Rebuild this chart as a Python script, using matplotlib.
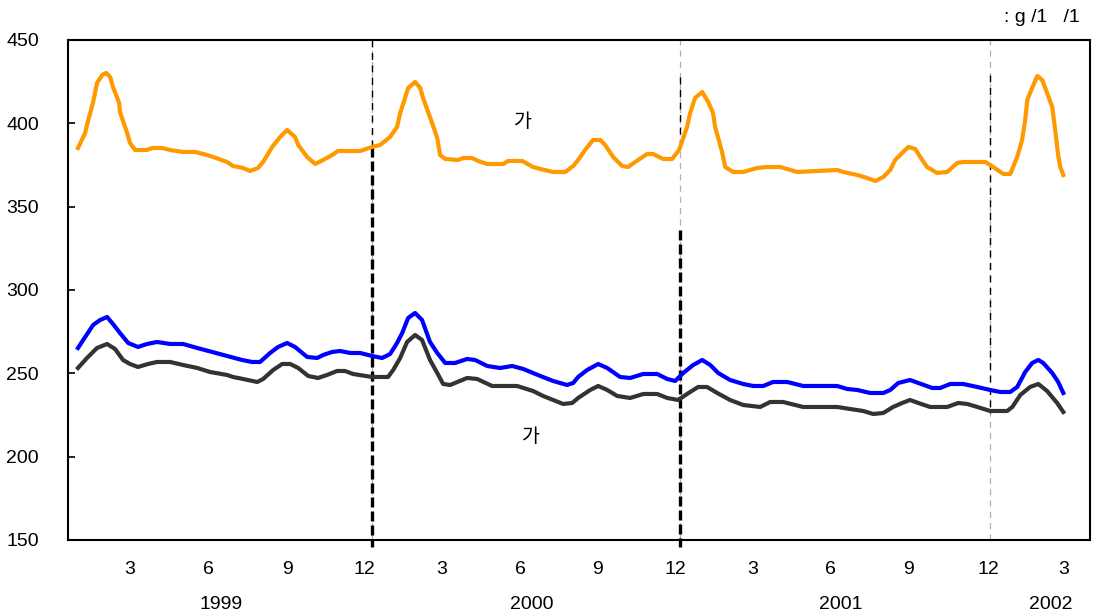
import matplotlib
matplotlib.use("Agg")
import matplotlib.pyplot as plt

# x = months since 1 Jan 1999, y = price
orange_x = [0.54, 0.82, 0.89, 1.13, 1.28, 1.48, 1.63, 1.79, 1.90, 2.14, 2.17, 2.45, 2.56, 2.76,
            3.22, 3.42, 3.81, 4.12, 4.62, 5.09, 5.55, 5.79, 6.33, 6.56, 6.95, 7.22, 7.53, 7.73,
            8.08, 8.39, 8.66, 8.97, 9.09, 9.44, 9.75, 10.06, 10.41, 10.64, 11.50, 11.96, 12.27,
            12.66, 12.93, 13.05, 13.24, 13.36, 13.63, 13.83, 13.94, 14.29, 14.49, 14.60, 14.80,
            15.30, 15.50, 15.84, 16.08, 16.43, 17.05, 17.24, 17.79, 18.21, 18.49, 18.99, 19.46,
            19.77, 19.96, 20.23, 20.54, 20.82, 21.01, 21.32, 21.67, 21.90, 22.29, 22.64, 22.87,
            23.26, 23.61, 23.88, 24.19, 24.31, 24.50, 24.78, 25.01, 25.20, 25.28, 25.55, 25.67,
            25.98, 26.37, 26.64, 26.91, 27.30, 27.81, 28.08, 28.47, 29.24, 30.02, 30.25, 30.80,
            31.18, 31.50, 31.81, 32.08, 32.27, 32.54, 32.78, 33.05, 33.32, 33.51, 33.90, 34.29,
            34.68, 34.91, 35.77, 36.08, 36.47, 36.74, 37.01, 37.20, 37.32, 37.40, 37.59, 37.79,
            37.98, 38.17, 38.37, 38.45, 38.60, 38.68, 38.80]
orange_y = [385.2, 394.2, 399.0, 412.8, 424.2, 429.0, 430.2, 427.8, 421.8, 412.2, 406.8, 394.2, 388.2, 384.0,
            384.0, 385.2, 385.2, 384.0, 382.8, 382.8, 381.0, 379.8, 376.8, 374.4, 373.2, 371.4, 373.2, 376.8,
            385.8, 391.8, 396.0, 391.8, 387.0, 379.8, 375.6, 378.0, 381.0, 383.4, 383.4, 385.8, 387.0,
            391.8, 397.8, 406.2, 415.2, 421.2, 424.8, 421.2, 415.2, 400.2, 391.2, 381.0, 378.6,
            378.0, 379.2, 379.2, 377.4, 375.6, 375.6, 377.4, 377.4, 373.8, 372.6, 370.8, 370.8,
            374.4, 378.0, 384.0, 390.0, 390.0, 387.0, 379.8, 374.4, 373.8, 378.0, 381.6, 381.6,
            378.6, 378.6, 384.0, 397.8, 406.2, 415.2, 418.8, 412.8, 406.2, 397.8, 382.8, 373.8,
            370.8, 370.8, 372.0, 373.2, 373.8, 373.8, 372.6, 370.8, 371.4, 372.0, 370.8, 369.0,
            367.2, 365.4, 367.8, 372.0, 378.0, 382.2, 385.8, 384.6, 378.0, 373.8, 370.2, 370.8,
            376.2, 376.8, 376.8, 373.8, 369.6, 369.6, 379.8, 390.0, 402.0, 414.0, 421.2, 428.4,
            426.0, 418.2, 409.8, 400.2, 381.0, 373.8, 369.0]

blue_x = [0.54, 0.82, 1.13, 1.40, 1.67, 1.90, 2.17, 2.49, 2.87, 3.22, 3.61, 4.12, 4.62, 5.17, 5.75,
          6.33, 6.91, 7.30, 7.61, 8.00, 8.31, 8.66, 8.97, 9.44, 9.83, 10.06, 10.41, 10.72, 11.11,
          11.50, 11.96, 12.35, 12.66, 12.93, 13.13, 13.36, 13.63, 13.90, 14.21, 14.49, 14.80,
          15.18, 15.65, 15.96, 16.43, 16.93, 17.40, 17.83, 18.49, 18.99, 19.53, 19.77, 19.96,
          20.31, 20.74, 21.09, 21.59, 21.98, 22.49, 23.03, 23.42, 23.73, 24.04, 24.43, 24.78,
          25.09, 25.40, 25.86, 26.37, 26.76, 27.15, 27.53, 28.08, 28.70, 30.02, 30.41, 30.80,
          31.30, 31.81, 32.08, 32.39, 32.85, 33.17, 33.71, 34.02, 34.41, 34.91, 35.46, 35.96,
          36.35, 36.74, 37.01, 37.32, 37.59, 37.83, 38.02, 38.37, 38.60, 38.80]
blue_y = [265.2, 271.8, 279.0, 282.0, 283.8, 279.6, 274.2, 268.2, 265.8, 267.6, 268.8, 267.6, 267.6, 265.2, 262.8,
          260.4, 258.0, 256.8, 256.8, 262.2, 265.8, 268.2, 265.8, 259.8, 259.2, 261.0, 262.8, 263.4, 262.2,
          262.2, 260.4, 259.2, 261.6, 268.2, 274.2, 283.2, 286.2, 282.0, 268.8, 262.2, 256.2,
          256.2, 258.6, 258.0, 254.4, 253.2, 254.4, 252.6, 248.4, 245.4, 243.0, 244.2, 247.8,
          252.0, 255.6, 253.2, 247.8, 247.2, 249.6, 249.6, 246.6, 245.4, 250.2, 255.0, 258.0,
          255.0, 250.2, 246.0, 243.6, 242.4, 242.4, 244.8, 244.8, 242.4, 242.4, 240.6, 240.0,
          238.2, 238.2, 240.0, 244.2, 246.0, 244.2, 241.2, 241.2, 243.6, 243.6, 241.8, 240.0,
          238.8, 238.8, 241.8, 250.8, 256.2, 258.0, 256.2, 250.2, 244.8, 238.2]

black_x = [0.54, 0.89, 1.28, 1.67, 1.98, 2.29, 2.56, 2.87, 3.26, 3.61, 4.12, 4.62, 5.17, 5.67, 6.33,
           6.56, 6.95, 7.50, 7.73, 8.12, 8.47, 8.78, 9.09, 9.48, 9.86, 10.21, 10.60, 10.91, 11.22,
           11.96, 12.58, 12.78, 13.05, 13.32, 13.63, 13.90, 14.21, 14.49, 14.72, 14.99, 15.65,
           16.04, 16.62, 17.59, 18.21, 18.60, 18.99, 19.38, 19.73, 19.96, 20.43, 20.74, 21.09,
           21.48, 21.98, 22.49, 23.03, 23.42, 23.84, 24.31, 24.62, 24.97, 25.36, 25.86, 26.37,
           27.03, 27.42, 27.92, 28.70, 30.02, 30.52, 31.03, 31.42, 31.81, 32.19, 32.54, 32.85,
           33.17, 33.63, 34.29, 34.72, 35.07, 35.46, 35.96, 36.62, 36.82, 37.13, 37.51, 37.83,
           38.17, 38.56, 38.80]
black_y = [253.2, 259.2, 265.2, 267.6, 264.6, 258.0, 255.6, 253.8, 255.6, 256.8, 256.8, 255.0, 253.2, 250.8, 249.0,
           247.8, 246.6, 244.8, 246.6, 252.0, 255.6, 255.6, 253.2, 248.4, 247.2, 249.0, 251.4, 251.4, 249.6,
           247.8, 247.8, 252.0, 259.2, 268.8, 273.0, 270.0, 258.0, 250.2, 243.6, 243.0, 247.2,
           246.6, 242.4, 242.4, 239.4, 236.4, 234.0, 231.6, 232.2, 235.2, 240.0, 242.4, 240.0,
           236.4, 235.2, 237.6, 237.6, 235.2, 234.0, 238.8, 241.8, 241.8, 238.2, 234.0, 231.0,
           229.8, 232.8, 232.8, 229.8, 229.8, 228.6, 227.4, 225.6, 226.2, 229.8, 232.2, 234.0,
           232.2, 229.8, 229.8, 232.2, 231.6, 229.8, 227.4, 227.4, 229.8, 237.0, 241.8, 243.6,
           239.4, 232.2, 226.8]

month_tick_pos = [2.56, 5.59, 8.66, 11.65, 14.68, 17.71, 20.70, 23.73, 26.72, 29.75, 32.78, 35.88, 38.80]
month_tick_lab = ["3", "6", "9", "12", "3", "6", "9", "12", "3", "6", "9", "12", "3"]
year_pos = [6.1, 18.17, 30.17, 38.3]
year_lab = ["1999", "2000", "2001", "2002"]
year_breaks = [11.96, 23.92, 35.96]

FONT = ["Liberation Sans", "DejaVu Sans"]
KFONT = ["Noto Sans CJK KR", "DejaVu Sans"]

fig = plt.figure(figsize=(11.03, 6.16), dpi=100)
ax = fig.add_axes([0.0617, 0.1234, 0.9266, 0.8117])
ax.set_xlim(0.155, 39.84)
ax.set_ylim(150, 450)

# year separators
for xb in year_breaks:
    ax.axvline(xb, color="#b0b0b0", lw=0.9, ls=(0, (5, 4)), zorder=1)
ax.plot([year_breaks[0]] * 2, [450, 386], color="black", lw=1.0, ls=(0, (5, 4)), zorder=2)
ax.plot([year_breaks[1]] * 2, [428, 384], color="black", lw=1.0, ls=(0, (5, 4)), zorder=2)
ax.plot([year_breaks[2]] * 2, [429, 226], color="black", lw=1.0, ls=(0, (5, 4)), zorder=2)
ax.plot([year_breaks[0]] * 2, [386, 146], color="black", lw=2.4, ls=(0, (3, 1.2)),
        zorder=2, clip_on=False)
ax.plot([year_breaks[1]] * 2, [336, 146], color="black", lw=2.4, ls=(0, (3, 1.2)),
        zorder=2, clip_on=False)

ax.plot(orange_x, orange_y, color="#ff9900", lw=3.0, solid_joinstyle="round", zorder=3)
ax.plot(blue_x, blue_y, color="#0000ff", lw=3.0, solid_joinstyle="round", zorder=3)
ax.plot(black_x, black_y, color="#333333", lw=3.0, solid_joinstyle="round", zorder=3)

ax.text(17.83, 400.8, "가", ha="center", va="center", fontsize=14, family=KFONT)
ax.text(18.14, 211.8, "가", ha="center", va="center", fontsize=14, family=KFONT)

for s in ax.spines.values():
    s.set_linewidth(1.5)
ax.set_yticks(range(150, 451, 50))
ax.tick_params(axis="y", direction="in", length=5, width=1.2, pad=21, labelsize=14)
ax.set_xticks(month_tick_pos)
ax.set_xticklabels(month_tick_lab)
ax.tick_params(axis="x", length=0, pad=15, labelsize=14)
for lab in ax.get_xticklabels() + ax.get_yticklabels():
    lab.set_family(FONT)

for xp, t in zip(year_pos, year_lab):
    ax.text(xp, -0.13, t, transform=ax.get_xaxis_transform(), ha="center", va="center",
            fontsize=14, family=FONT)

fig.text(1080 / 1103, 1 - 18 / 616, ": g /1   /1", ha="right", va="center",
         fontsize=14, family=FONT)

fig.savefig("out.png", dpi=100, facecolor="white")
